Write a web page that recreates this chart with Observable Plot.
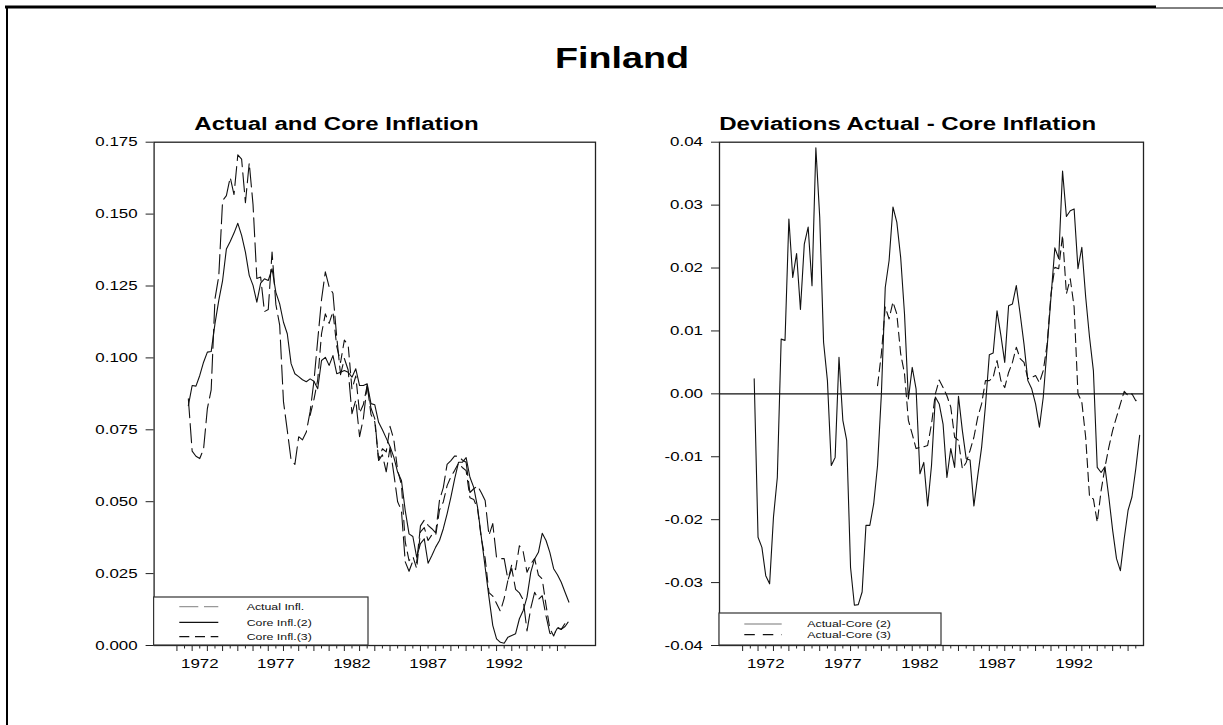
<!DOCTYPE html>
<html><head><meta charset="utf-8">
<script src="https://cdn.jsdelivr.net/npm/d3@7"></script>
<script src="https://cdn.jsdelivr.net/npm/@observablehq/plot@0.6"></script>
<style>
html,body{margin:0;padding:0;background:#fff;}
#page{position:relative;width:1223px;height:725px;overflow:hidden;font-family:"Liberation Sans",Arial,Helvetica,sans-serif;background:#fff;}
#page svg{position:absolute;}
</style></head><body><div id="page"></div>
<script>
// ---------------- data (quarterly, 1971Q2 .. 1996Q2) ----------------
const firstQuarter = 1971.25;
const core3FirstQuarter = 1979.25;

const coreInfl2 = [0.0834,0.0904,0.0902,0.0939,0.0985,0.102,0.1022,0.1119,0.12,0.1269,
0.1379,0.1405,0.1434,0.1468,0.1426,0.1368,0.1287,0.1252,0.1194,0.126,
0.1275,0.1269,0.131,0.1228,0.1188,0.1124,0.1084,0.098,0.0945,0.0935,
0.0924,0.0917,0.0927,0.0919,0.0893,0.0991,0.1002,0.0974,0.1008,0.0945,
0.095,0.0956,0.095,0.0933,0.0962,0.0904,0.0904,0.091,0.0841,0.0837,
0.0776,0.075,0.0721,0.0692,0.0655,0.0603,0.0574,0.0469,0.0388,0.0379,
0.0307,0.0354,0.0371,0.0286,0.0313,0.0342,0.0365,0.0406,0.0458,0.0516,
0.058,0.0637,0.0637,0.0653,0.0585,0.055,0.0481,0.0377,0.0272,0.0168,
0.007,0.0023,0.0011,0.0008,0.0029,0.0035,0.0041,0.0093,0.0122,0.0168,
0.0255,0.0301,0.0324,0.039,0.0365,0.0324,0.0267,0.0246,0.022,0.0185,
0.0151];

const actualInfl = [0.0858,0.0676,0.0658,0.065,0.0683,0.0824,0.0889,0.1206,0.1285,0.1547,
0.1564,0.1628,0.1568,0.1706,0.1691,0.154,0.1678,0.1533,0.1276,0.1281,
0.1161,0.1168,0.1368,0.1186,0.1114,0.0848,0.0748,0.0645,0.063,0.0726,
0.0715,0.0742,0.0813,0.0919,0.1062,0.1203,0.1299,0.1247,0.1225,0.1072,
0.0942,0.0998,0.0958,0.0806,0.0853,0.0726,0.079,0.0905,0.0825,0.0789,
0.0643,0.0663,0.0604,0.0688,0.0597,0.05,0.0469,0.0291,0.0258,0.0294,
0.0288,0.0416,0.0436,0.0418,0.0406,0.0392,0.0505,0.0549,0.063,0.0643,
0.0659,0.0658,0.0645,0.0637,0.0532,0.0545,0.0555,0.0531,0.0504,0.0383,
0.0424,0.0305,0.0302,0.0302,0.0228,0.0268,0.0195,0.0183,0.0159,0.0051,
0.013,0.0185,0.016,0.0173,0.0103,0.0043,0.0037,0.0061,0.0056,0.0066,
0.0085];

const coreInfl3 = [0.08,0.0855,0.0924,0.1084,0.1153,0.112,0.1161,0.104,0.0984,0.1062,
0.1045,0.0891,0.0937,0.0808,0.0838,0.0905,0.0803,0.0777,0.0646,0.0684,
0.0673,0.0762,0.0716,0.0609,0.0559,0.036,0.0295,0.031,0.0267,0.0395,
0.041,0.0365,0.0385,0.0382,0.0471,0.0499,0.0556,0.0587,0.0609,0.0634,
0.0619,0.0608,0.0514,0.0508,0.0476,0.0372,0.0303,0.0184,0.0172,0.0146,
0.0119,0.0164,0.0228,0.0281,0.0264,0.0347,0.0326,0.0255,0.0284,0.0302,
0.0245,0.0231,0.014,0.0059,0.0033,0.0064,0.0056,0.0077,0.009];

const devCore2 = [0.0024,-0.0228,-0.0244,-0.0289,-0.0302,-0.0196,-0.0133,0.0087,0.0085,0.0278,
0.0185,0.0223,0.0134,0.0238,0.0265,0.0172,0.0391,0.0281,0.0082,0.0021,
-0.0114,-0.0101,0.0058,-0.0042,-0.0074,-0.0276,-0.0336,-0.0335,-0.0315,-0.0209,
-0.0209,-0.0175,-0.0114,0.0,0.0169,0.0212,0.0297,0.0273,0.0217,0.0127,
-0.0008,0.0042,0.0008,-0.0127,-0.0109,-0.0178,-0.0114,-0.0005,-0.0016,-0.0048,
-0.0133,-0.0087,-0.0117,-0.0004,-0.0058,-0.0103,-0.0105,-0.0178,-0.013,-0.0085,
-0.0019,0.0062,0.0065,0.0132,0.0093,0.005,0.014,0.0143,0.0172,0.0127,
0.0079,0.0021,0.0008,-0.0016,-0.0053,-0.0005,0.0074,0.0154,0.0232,0.0215,
0.0354,0.0282,0.0291,0.0294,0.0199,0.0233,0.0154,0.009,0.0037,-0.0117,
-0.0125,-0.0116,-0.0164,-0.0217,-0.0262,-0.0281,-0.023,-0.0185,-0.0164,-0.0119,
-0.0066];

const devCore3 = [0.0013,0.0064,0.0138,0.0119,0.0146,0.0127,0.0064,0.0032,-0.0042,-0.0064,
-0.0087,-0.0085,-0.0084,-0.0082,-0.0048,0,0.0022,0.001,-0.0003,-0.0021,
-0.0069,-0.0074,-0.0119,-0.0109,-0.009,-0.0069,-0.0037,-0.0016,0.0021,0.0021,
0.0026,0.0053,0.0021,0.001,0.0034,0.005,0.0074,0.0056,0.005,0.0024,
0.0026,0.0029,0.0018,0.0037,0.0079,0.0159,0.0201,0.0199,0.0252,0.0159,
0.0183,0.0138,0,-0.0013,-0.0069,-0.0164,-0.0167,-0.0204,-0.0154,-0.0117,
-0.0085,-0.0058,-0.0037,-0.0016,0.0004,-0.0003,0,-0.0011,-0.0005];

const leftYTicks = [0, 0.025, 0.05, 0.075, 0.1, 0.125, 0.15, 0.175];
const rightYTicks = [-0.04, -0.03, -0.02, -0.01, 0, 0.01, 0.02, 0.03, 0.04];
const yearLabels = [1972, 1977, 1982, 1987, 1992];
const midYearTicks = d3.range(1970.5, 1996.01, 1);
const yearTicks = d3.range(1971, 1996.01, 1);

const legendLeft = ["Actual Infl.", "Core Infl.(2)", "Core Infl.(3)"];
const legendRight = ["Actual-Core (2)", "Actual-Core (3)"];

// ---------------- tables ----------------
const main = coreInfl2.map((v, i) => ({t: firstQuarter + i / 4, core2: v, actual: actualInfl[i], dev2: devCore2[i]}));
const late = coreInfl3.map((v, i) => ({t: core3FirstQuarter + i / 4, core3: v, dev3: devCore3[i]}));

const FONT = '"Liberation Sans", Arial, Helvetica, sans-serif';
const SX = 1.3; // horizontal stretch of the source figure's lettering
const page = d3.select("#page");

// background: frame lines and titles
const bg = page.append("svg").attr("width", 1223).attr("height", 725).style("left", "0px").style("top", "0px")
  .attr("font-family", FONT);
bg.append("line").attr("x1", 5).attr("x2", 1156).attr("y1", 7).attr("y2", 7).attr("stroke", "#000").attr("stroke-width", 3);
bg.append("line").attr("x1", 1156).attr("x2", 1223).attr("y1", 8).attr("y2", 8).attr("stroke", "#000").attr("stroke-width", 1);
bg.append("line").attr("x1", 7).attr("x2", 7).attr("y1", 6).attr("y2", 725).attr("stroke", "#000").attr("stroke-width", 2);
function title(txt, x, y, size) {
  bg.append("text").attr("transform", `translate(${x},${y}) scale(${SX},1)`).attr("text-anchor", "middle")
    .attr("font-weight", "bold").attr("font-size", size).attr("fill", "#000").text(txt);
}
title("Finland", 622, 68, 29);
title("Actual and Core Inflation", 336.5, 129.5, 18.5);
title("Deviations Actual - Core Inflation", 907.7, 129.5, 18.5);

function stretch(svg) {
  svg.querySelectorAll("text").forEach(t => {
    const tr = t.getAttribute("transform") || "";
    if (t.hasAttribute("x")) {
      const x = +t.getAttribute("x") || 0;
      t.removeAttribute("x");
      t.setAttribute("transform", `${tr} translate(${x},0) scale(${SX},1)`);
    } else {
      t.setAttribute("transform", `${tr} scale(${SX},1)`);
    }
  });
}

const common = {
  width: 560, height: 560, marginTop: 11.7, marginBottom: 45,
  style: {fontFamily: FONT, fontSize: "13px", color: "#000", background: "transparent", overflow: "visible"}
};

function xAxes() {
  return [
    Plot.axisX({ticks: midYearTicks, tickSize: 6, tickFormat: () => "", stroke: "#222"}),
    Plot.axisX({ticks: yearTicks, tickSize: 3.5, tickFormat: () => "", stroke: "#222"}),
    Plot.axisX({ticks: yearLabels, tickSize: 0, tickPadding: 13.5, tickFormat: d => String(d), fontSize: 13, fill: "#000"})
  ];
}

const leftPlot = Plot.plot({
  ...common,
  marginLeft: 93.6, marginRight: 25,
  x: {domain: [1969, 1998], label: null},
  y: {domain: [0, 0.175], label: null},
  marks: [
    Plot.axisY({ticks: leftYTicks, tickSize: 8, tickPadding: 8.5, tickFormat: d => d.toFixed(3), fontSize: 13, stroke: "#222", fill: "#000"}),
    ...xAxes(),
    Plot.line(main, {x: "t", y: "actual", stroke: "#111", strokeWidth: 1.1, strokeDasharray: "19,6"}),
    Plot.line(main, {x: "t", y: "core2", stroke: "#111", strokeWidth: 1.1}),
    Plot.line(late, {x: "t", y: "core3", stroke: "#111", strokeWidth: 1.1, strokeDasharray: "10,6"}),
    Plot.frame({stroke: "#222", strokeWidth: 1.3})
  ]
});
leftPlot.style.left = "60px"; leftPlot.style.top = "130px";
page.node().appendChild(leftPlot);
stretch(leftPlot);

const rightPlot = Plot.plot({
  ...common,
  marginLeft: 79, marginRight: 57,
  x: {domain: [1969, 1996.5], label: null},
  y: {domain: [-0.04, 0.04], label: null},
  marks: [
    Plot.axisY({ticks: rightYTicks, tickSize: 8, tickPadding: 8.5, tickFormat: d => d.toFixed(2), fontSize: 13, stroke: "#222", fill: "#000"}),
    ...xAxes(),
    Plot.ruleY([0], {stroke: "#111", strokeWidth: 1.1}),
    Plot.line(main, {x: "t", y: "dev2", stroke: "#111", strokeWidth: 1.1}),
    Plot.line(late, {x: "t", y: "dev3", stroke: "#111", strokeWidth: 1.1, strokeDasharray: "9,5"}),
    Plot.frame({stroke: "#222", strokeWidth: 1.3})
  ]
});
rightPlot.style.left = "640px"; rightPlot.style.top = "130px";
page.node().appendChild(rightPlot);
stretch(rightPlot);

// legends overlay
const ov = page.append("svg").attr("width", 1223).attr("height", 725).style("left", "0px").style("top", "0px")
  .attr("font-family", FONT).style("pointer-events", "none");
function legend(box, items) {
  ov.append("rect").attr("x", box.x).attr("y", box.y).attr("width", box.w).attr("height", box.h)
    .attr("fill", "#fff").attr("stroke", "#333").attr("stroke-width", 1.2);
  items.forEach(it => {
    ov.append("line").attr("x1", box.sx1).attr("x2", box.sx2).attr("y1", it.y).attr("y2", it.y)
      .attr("stroke", it.color).attr("stroke-width", 1.2).attr("stroke-dasharray", it.dash || null);
    ov.append("text").attr("transform", `translate(${box.tx},${it.y + 3.4}) scale(${SX},1)`)
      .attr("font-size", 9.5).attr("fill", "#111").text(it.label);
  });
}
legend({x: 153.6, y: 597, w: 214.4, h: 48, sx1: 179.3, sx2: 218.3, tx: 246.7}, [
  {label: legendLeft[0], y: 606.7, color: "#999", dash: "19,5.7"},
  {label: legendLeft[1], y: 622.3, color: "#111"},
  {label: legendLeft[2], y: 636.7, color: "#111", dash: "10,5.7"}
]);
legend({x: 719, y: 613, w: 222, h: 32, sx1: 744.3, sx2: 781.7, tx: 807.3}, [
  {label: legendRight[0], y: 624, color: "#777"},
  {label: legendRight[1], y: 634.7, color: "#111", dash: "10.5,8"}
]);
</script></body></html>
